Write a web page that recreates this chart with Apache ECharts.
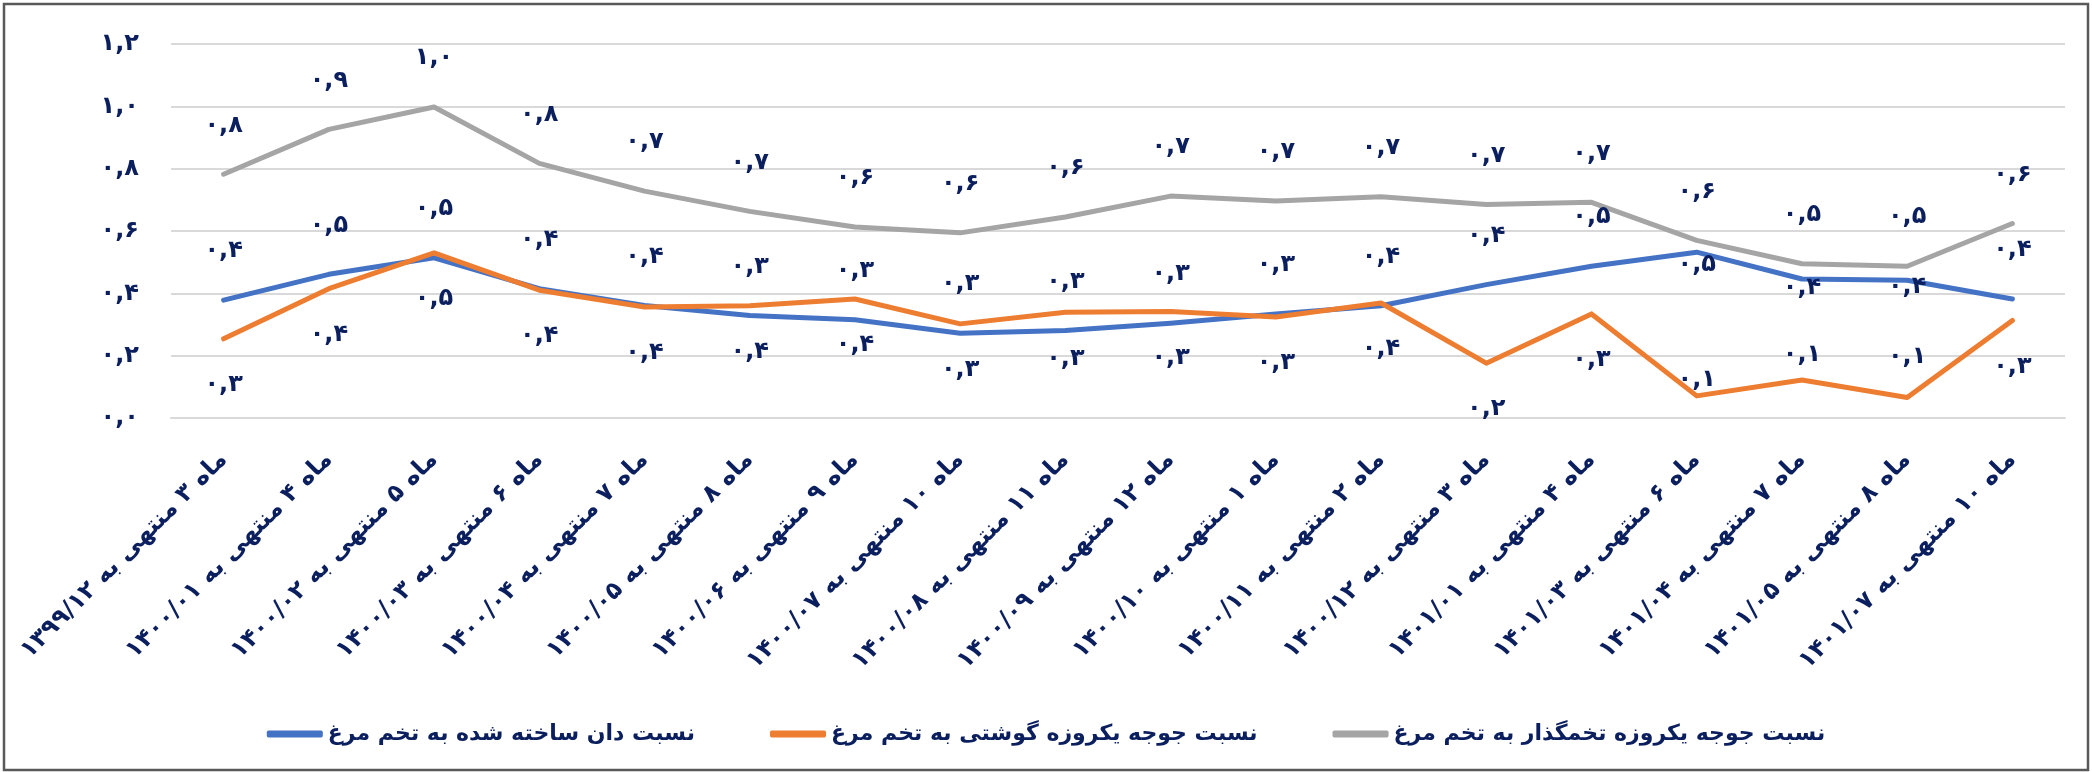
<!DOCTYPE html>
<html>
<head>
<meta charset="utf-8">
<script src="https://cdn.jsdelivr.net/npm/echarts@6/dist/echarts.min.js"></script>
<style>
html,body{margin:0;padding:0;background:#fff;}
#chart{width:2092px;height:772px;}
</style>
</head>
<body>
<div id="chart"></div>
<script>
// ---- data ----
const categories = [
  'ماه ۳ منتهی به ۱۳۹۹/۱۲',
  'ماه ۴ منتهی به ۱۴۰۰/۰۱',
  'ماه ۵ منتهی به ۱۴۰۰/۰۲',
  'ماه ۶ منتهی به ۱۴۰۰/۰۳',
  'ماه ۷ منتهی به ۱۴۰۰/۰۴',
  'ماه ۸ منتهی به ۱۴۰۰/۰۵',
  'ماه ۹ منتهی به ۱۴۰۰/۰۶',
  'ماه ۱۰ منتهی به ۱۴۰۰/۰۷',
  'ماه ۱۱ منتهی به ۱۴۰۰/۰۸',
  'ماه ۱۲ منتهی به ۱۴۰۰/۰۹',
  'ماه ۱ منتهی به ۱۴۰۰/۱۰',
  'ماه ۲ منتهی به ۱۴۰۰/۱۱',
  'ماه ۳ منتهی به ۱۴۰۰/۱۲',
  'ماه ۴ منتهی به ۱۴۰۱/۰۱',
  'ماه ۶ منتهی به ۱۴۰۱/۰۳',
  'ماه ۷ منتهی به ۱۴۰۱/۰۴',
  'ماه ۸ منتهی به ۱۴۰۱/۰۵',
  'ماه ۱۰ منتهی به ۱۴۰۱/۰۷'
];
const seriesNames = [
  'نسبت دان ساخته شده به تخم مرغ',
  'نسبت جوجه یکروزه گوشتی به تخم مرغ',
  'نسبت جوجه یکروزه تخمگذار به تخم مرغ'
];
const feedRatio    = [0.378, 0.461, 0.514, 0.415, 0.361, 0.329, 0.315, 0.272, 0.281, 0.304, 0.334, 0.360, 0.428, 0.487, 0.532, 0.446, 0.442, 0.382];
const broilerRatio = [0.254, 0.415, 0.530, 0.410, 0.356, 0.360, 0.382, 0.302, 0.339, 0.342, 0.324, 0.369, 0.176, 0.334, 0.071, 0.122, 0.066, 0.313];
const layerRatio   = [0.782, 0.926, 0.998, 0.817, 0.728, 0.663, 0.613, 0.594, 0.645, 0.712, 0.696, 0.710, 0.685, 0.692, 0.570, 0.495, 0.487, 0.624];
const yTicks = [0, 0.2, 0.4, 0.6, 0.8, 1.0, 1.2];

// ---- helpers ----
const faDigits = '۰۱۲۳۴۵۶۷۸۹';
function fa(s){ return String(s).replace(/\d/g, d => faDigits[d]); }
function fmt(v){ return fa(v.toFixed(1).replace('.', ',')); }

const textColor = '#0B1F5E';
const fontFam = '"DejaVu Sans", sans-serif';
const colors = ['#4472C4', '#ED7D31', '#A5A5A5'];

// per-point label adjustments (layout only)
const feedLabelAdjust = {
  14: {position: 'bottom', distance: 0},
  15: {position: 'bottom', distance: -4},
  16: {position: 'bottom', distance: -6, offset: [8, 0]}
};
const broilerLabelAdjust = {
  14: {position: 'top', distance: 3, offset: [19, 0]},
  15: {position: 'top', distance: 12},
  16: {position: 'top', distance: 28, offset: [-5, 0]}
};

function buildData(values, adjust){
  return values.map((v, i) => adjust[i] ? {value: v, label: adjust[i]} : v);
}

const labelBase = {
  show: true,
  color: textColor,
  fontFamily: fontFam,
  fontWeight: 'bold',
  fontSize: 24,
  formatter: p => fmt(p.value)
};

function lineSeries(name, data, color, labelPos, labelDist, z){
  return {
    name: name, type: 'line', data: data,
    showSymbol: true, symbol: 'circle', symbolSize: 2,
    itemStyle: {color: color},
    color: color,
    lineStyle: {width: 5, color: color, cap: 'round', join: 'round'},
    label: Object.assign({}, labelBase, {position: labelPos, distance: labelDist}),
    labelLayout: {hideOverlap: false},
    emphasis: {disabled: true},
    z: z
  };
}

const chart = echarts.init(document.getElementById('chart'), null, {renderer: 'canvas'});
chart.setOption({
  animation: false,
  backgroundColor: '#fff',
  graphic: [{
    type: 'rect',
    shape: {x: 4, y: 4, width: 2084, height: 766},
    style: {fill: 'none', stroke: '#595959', lineWidth: 2.5},
    silent: true
  }],
  grid: {left: 171, right: 27, top: 44, bottom: 354, containLabel: false},
  legend: {
    bottom: 22,
    left: 'center',
    itemWidth: 56,
    itemHeight: 7,
    itemGap: 75,
    textStyle: {color: textColor, fontFamily: fontFam, fontWeight: 'bold', fontSize: 22},
    data: seriesNames.map((n, i) => ({name: n, icon: 'roundRect', itemStyle: {color: colors[i], opacity: 1}}))
  },
  xAxis: {
    type: 'category',
    data: categories,
    boundaryGap: true,
    axisLine: {show: true, lineStyle: {color: '#D9D9D9', width: 2}},
    axisTick: {show: false},
    axisLabel: {
      interval: 0,
      rotate: 45,
      margin: 38,
      color: textColor,
      fontFamily: fontFam,
      fontWeight: 'bold',
      fontSize: 24
    }
  },
  yAxis: {
    type: 'value',
    min: 0,
    max: 1.2,
    interval: 0.2,
    axisLine: {show: false},
    axisTick: {show: false},
    splitLine: {lineStyle: {color: '#D9D9D9', width: 2}},
    axisLabel: {
      margin: 32,
      color: textColor,
      fontFamily: fontFam,
      fontWeight: 'bold',
      fontSize: 24,
      formatter: v => {
        const t = yTicks.find(k => Math.abs(k - v) < 1e-6);
        return fmt(t === undefined ? v : t);
      }
    }
  },
  series: [
    lineSeries(seriesNames[0], buildData(feedRatio, feedLabelAdjust), colors[0], 'top', 36, 3),
    lineSeries(seriesNames[1], buildData(broilerRatio, broilerLabelAdjust), colors[1], 'bottom', 33, 4),
    lineSeries(seriesNames[2], layerRatio, colors[2], 'top', 36, 2)
  ]
});
</script>
</body>
</html>
